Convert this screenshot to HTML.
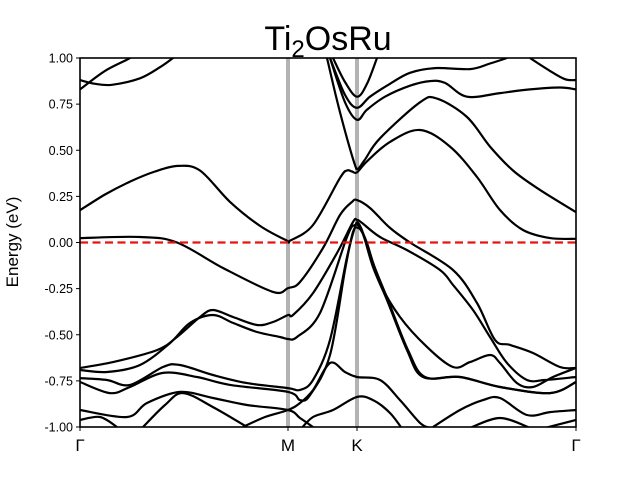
<!DOCTYPE html>
<html><head><meta charset="utf-8"><style>
body{margin:0;background:#fff}
svg{display:block;font-family:"Liberation Sans",sans-serif}
</style></head><body>
<svg id="chart" width="640" height="480" viewBox="0 0 640 480">
<defs><clipPath id="pc"><rect x="80" y="58" width="496" height="369"/></clipPath></defs>
<text x="328" y="50" font-size="34" text-anchor="middle">Ti<tspan font-size="24" dy="7">2</tspan><tspan dy="-7">OsRu</tspan></text>
<text transform="translate(18,242) rotate(-90)" font-size="17" text-anchor="middle">Energy (eV)</text>
<g id="guides"></g>
<g id="bands" clip-path="url(#pc)"></g>
<g id="axes"></g>
</svg>
<script>
const kLabels = ["Γ","M","K","Γ"];
const kPoints = [0, 2.08, 2.77, 4.96];
const yTicks = [-1,-0.75,-0.5,-0.25,0,0.25,0.5,0.75,1];
const bandNames = ["B1","B2","B3","B4","U1","U2","U3","TR","C","E1","E2","E3","E4","G","L5","L6","L7","H","Ee","F1","F2"];
const bandK = [
[0,0.25,0.5,0.55],
[0,0.15,0.32,0.6,0.8,0.93,1.0],
[0,0.25,0.5,0.75,0.98,1.2,1.5,1.8,2.07,2.1,2.33,2.6,2.67,2.72,2.77,2.87,3.1,3.4,3.7,3.97,4.2,4.43,4.7,4.96],
[2.47,2.57,2.67,2.75,2.78,2.85,3.0,3.4,3.57,3.87,4.1,4.33,4.6,4.96],
[2.53,2.65,2.77,2.87,2.97],
[2.5,2.65,2.77,2.9,3.1,3.3,3.55,3.9,4.1,4.27],
[2.5,2.65,2.77,2.87,3.05,3.3,3.5,3.65,3.87,4.2,4.5,4.8,4.96],
[4.5,4.7,4.85,4.96],
[0,0.6,0.97,1.43,1.93,2.08,2.2,2.43,2.6,2.72,2.77,2.9,3.1,3.3,3.73,3.97,4.15,4.3,4.53,4.8,4.96],
[0,0.33,0.77,0.97,1.2,1.33,1.53,1.77,1.93,2.08,2.13,2.33,2.57,2.73,2.77,2.82,3.0,3.27,3.6,3.73,3.93,4.1,4.27,4.47,4.65,4.96],
[0,0.27,0.6,0.9,1.1,1.33,1.53,1.77,2.0,2.08,2.17,2.4,2.67,2.75,2.8,2.87,3.0,3.2,3.47,3.73,3.9,4.1,4.2,4.37,4.53,4.73,4.96],
[0,0.27,0.5,0.83,1.0,1.33,1.67,2.08,2.2,2.33,2.5,2.67,2.75,2.78,2.83,2.93,3.07,3.27,3.43,3.8,4.2,4.7,4.96],
[0,0.3,0.5,0.83,1.17,1.5,2.08,2.2,2.3,2.5,2.65,2.73,2.78,2.82,2.85,2.95,3.08,3.28,3.45,3.8,4.2,4.7,4.96],
[1.63,1.85,2.08,2.2,2.33,2.5,2.65,2.77,3.0,3.2,3.4,3.5],
[0,0.47,0.67,1.0,1.33,1.67,2.08,2.2,2.33],
[0,0.2,0.37],
[0.63,0.85,1.03,1.33,1.67],
[2.2,2.33,2.53,2.77,2.93,3.1,3.23],
[3.53,3.8,4.03,4.2,4.47,4.7,4.96],
[3.9,4.2,4.5],
[4.65,4.96]
];
const bandE = [
[0.83,0.93,1.0,1.03],
[0.88,0.86,0.855,0.89,0.95,1.0,1.03],
[0.175,0.26,0.33,0.385,0.415,0.39,0.22,0.09,0.01,0.01,0.095,0.35,0.39,0.385,0.38,0.44,0.545,0.61,0.52,0.355,0.176,0.068,0.024,0.02],
[1.0,0.77,0.565,0.42,0.40,0.45,0.565,0.76,0.78,0.68,0.52,0.39,0.285,0.165],
[1.0,0.87,0.79,0.86,1.0],
[1.0,0.8,0.73,0.79,0.86,0.92,0.945,0.94,0.97,1.0],
[1.0,0.76,0.665,0.72,0.79,0.85,0.875,0.865,0.79,0.81,0.83,0.84,0.83],
[1.0,0.93,0.885,0.88],
[0.024,0.03,0.0,-0.138,-0.268,-0.247,-0.214,-0.03,0.149,0.22,0.23,0.187,0.079,0.0,-0.149,-0.328,-0.528,-0.555,-0.599,-0.675,-0.68],
[-0.68,-0.648,-0.583,-0.512,-0.404,-0.366,-0.404,-0.447,-0.431,-0.393,-0.393,-0.274,-0.057,0.111,0.122,0.106,0.03,-0.041,-0.149,-0.23,-0.366,-0.512,-0.653,-0.745,-0.745,-0.729],
[-0.691,-0.702,-0.664,-0.545,-0.436,-0.393,-0.436,-0.485,-0.512,-0.523,-0.512,-0.382,0.03,0.095,0.079,-0.003,-0.22,-0.404,-0.566,-0.675,-0.648,-0.61,-0.653,-0.762,-0.783,-0.729,-0.68],
[-0.735,-0.745,-0.772,-0.675,-0.664,-0.718,-0.762,-0.789,-0.799,-0.745,-0.528,-0.079,0.084,0.106,0.051,-0.133,-0.312,-0.583,-0.729,-0.729,-0.783,-0.816,-0.756],
[-0.756,-0.816,-0.783,-0.707,-0.729,-0.772,-0.81,-0.854,-0.827,-0.61,-0.149,0.057,0.079,0.057,0.014,-0.138,-0.312,-0.583,-0.729,-0.729,-0.783,-0.816,-0.756],
[-1.0,-0.946,-0.908,-0.87,-0.8,-0.653,-0.702,-0.729,-0.745,-0.854,-0.978,-1.005],
[-0.908,-0.946,-0.87,-0.81,-0.843,-0.881,-0.908,-0.951,-1.0],
[-0.962,-0.946,-1.0],
[-1.0,-0.881,-0.816,-0.892,-1.0],
[-1.016,-0.946,-0.908,-0.837,-0.854,-0.924,-1.016],
[-1.0,-0.908,-0.854,-0.843,-0.935,-0.919,-0.908],
[-1.005,-0.951,-1.005],
[-1.005,-0.962]
];
const NS="http://www.w3.org/2000/svg";
const X0=80,X1=576,Y0=58,Y1=427,KMAX=4.96,EMIN=-1,EMAX=1;
const xs=k=>X0+(k/KMAX)*(X1-X0);
const ys=e=>Y1-(e-EMIN)/(EMAX-EMIN)*(Y1-Y0);
function mk(tag,attrs,parent){const el=document.createElementNS(NS,tag);for(const a in attrs)el.setAttribute(a,attrs[a]);parent.appendChild(el);return el;}
const guides=document.getElementById('guides'),bands=document.getElementById('bands'),axes=document.getElementById('axes');
kPoints.forEach((k,i)=>{
  if(i>0&&i<kPoints.length-1){
    const l=mk('line',{x1:xs(k),x2:xs(k),y1:Y0,y2:Y1,stroke:'#b3b3b3','stroke-width':4},guides);
    
    
  }
});
function smooth(pts){
  let d='M'+pts[0][0].toFixed(1)+','+pts[0][1].toFixed(1);
  for(let i=0;i<pts.length-1;i++){
    const p0=pts[i-1]||pts[i],p1=pts[i],p2=pts[i+1],p3=pts[i+2]||pts[i+1];
    const c1=[p1[0]+(p2[0]-p0[0])/6,p1[1]+(p2[1]-p0[1])/6];
    const c2=[p2[0]-(p3[0]-p1[0])/6,p2[1]-(p3[1]-p1[1])/6];
    d+='C'+c1[0].toFixed(1)+','+c1[1].toFixed(1)+' '+c2[0].toFixed(1)+','+c2[1].toFixed(1)+' '+p2[0].toFixed(1)+','+p2[1].toFixed(1);
  }
  return d;
}
bandK.forEach((ks,b)=>{
  const pts=ks.map((k,i)=>[xs(k),ys(bandE[b][i])]);
  const p=mk('path',{d:smooth(pts),fill:'none',stroke:'#000','stroke-width':2.2,'stroke-linejoin':'round'},bands);
  
  
});
const fl=mk('line',{x1:X0,x2:X1,y1:ys(0),y2:ys(0),stroke:'#e8140f','stroke-width':2.2,'stroke-dasharray':'8,4.5'},bands);


const fr=mk('rect',{x:X0,y:Y0,width:X1-X0,height:Y1-Y0,fill:'none',stroke:'#000','stroke-width':1.6},axes);


yTicks.forEach(v=>{
  const t=mk('line',{x1:X0-4,x2:X0,y1:ys(v),y2:ys(v),stroke:'#000','stroke-width':1},axes);
  
  
  const tx=mk('text',{x:X0-7,y:ys(v)+4.5,'font-size':12.5,'text-anchor':'end'},axes);
  tx.textContent=v.toFixed(2);
  
  
});
kPoints.forEach((k,i)=>{
  const t=mk('line',{x1:xs(k),x2:xs(k),y1:Y1,y2:Y1+4,stroke:'#000','stroke-width':1},axes);
  
  
  const tx=mk('text',{x:xs(k),y:Y1+24,'font-size':17,'text-anchor':'middle'},axes);
  tx.textContent=kLabels[i];
  
  
});
</script>
</body></html>
